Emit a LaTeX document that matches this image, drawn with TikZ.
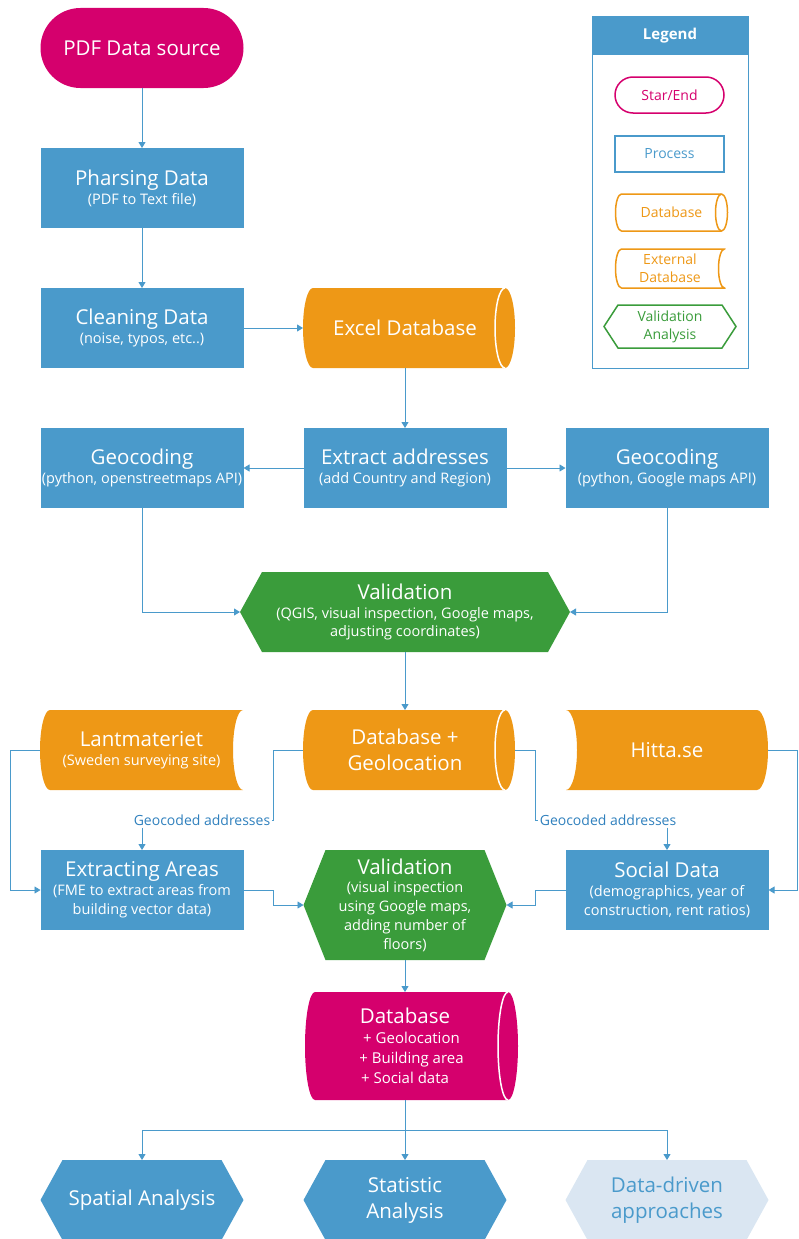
\documentclass[tikz,border=0pt]{standalone}
\usepackage{fontspec}
\setmainfont{Open Sans}
\usetikzlibrary{arrows.meta}

\definecolor{flowmagenta}{HTML}{D5006D}
\definecolor{flowblue}{HTML}{4A9ACB}
\definecolor{floworange}{HTML}{EE9816}
\definecolor{flowgreen}{HTML}{3A9C3B}
\definecolor{flowpale}{HTML}{DAE6F2}
\definecolor{flowtag}{HTML}{2F80BD}

\newcommand{\mtitle}[1]{{\fontsize{20.5}{24}\selectfont #1}}
% keeps text clear of the cylinder cap on the right
\newcommand{\capgap}[1]{\hspace*{#1}}

\tikzset{
    shfill/.store in=\shfill, shfill=flowblue,
    shline/.store in=\shline, shline=none,
    sharc/.store in=\sharc, sharc=white,
    pad/.store in=\shpad, pad=0pt,
    tip/.store in=\shtip, tip=22pt,
    capr/.store in=\shcapr, capr=10pt,
    box/.style = {
        align=center,
        inner sep=0pt,
        outer sep=0pt,
        text=white,
        font=\fontsize{14.5}{18.8}\selectfont
    },
    bigtext/.style = {font=\fontsize{20.5}{26}\selectfont},
    process/.style = {
        box,
        rectangle,
        fill=flowblue,
        minimum width=203pt,
        minimum height=80pt
    },
    startend/.style = {
        box,
        rectangle,
        rounded corners=40pt,
        fill=flowmagenta,
        minimum width=203pt,
        minimum height=80pt,
        font=\fontsize{20.5}{24}\selectfont
    },
    hexagon/.style 2 args = {
        box,
        minimum width=#1pt,
        minimum height=#2pt,
        path picture={
            \path[fill=\shfill, draw=\shline, line width=1.5pt]
                ([xshift=\shtip, yshift=-\shpad]path picture bounding box.north west)
                -- ([xshift=-\shtip, yshift=-\shpad]path picture bounding box.north east)
                -- ([xshift=-\shpad]path picture bounding box.east)
                -- ([xshift=-\shtip, yshift=\shpad]path picture bounding box.south east)
                -- ([xshift=\shtip, yshift=\shpad]path picture bounding box.south west)
                -- ([xshift=\shpad]path picture bounding box.west) -- cycle;
        }
    },
    database/.style 2 args = {
        box,
        minimum width=#1pt,
        minimum height=#2pt,
        path picture={
            \path[fill=\shfill, draw=\shline, line width=1.5pt]
                ([xshift=\shcapr+\shpad, yshift=-\shpad]path picture bounding box.north west)
                arc[start angle=90, end angle=270, x radius=\shcapr, y radius={#2pt/2-\shpad}]
                -- ([xshift=-\shcapr-\shpad, yshift=\shpad]path picture bounding box.south east)
                arc[start angle=-90, end angle=90, x radius=\shcapr, y radius={#2pt/2-\shpad}]
                -- cycle;
            \draw[draw=\sharc, line width=1.5pt]
                ([xshift=-\shcapr-\shpad, yshift=\shpad]path picture bounding box.south east)
                arc[start angle=270, end angle=90, x radius=\shcapr, y radius={#2pt/2-\shpad}];
        }
    },
    extdb/.style 2 args = {
        box,
        minimum width=#1pt,
        minimum height=#2pt,
        path picture={
            \path[fill=\shfill, draw=\shline, line width=1.5pt]
                ([xshift=\shcapr+\shpad, yshift=-\shpad]path picture bounding box.north west)
                arc[start angle=90, end angle=270, x radius=\shcapr, y radius={#2pt/2-\shpad}]
                -- ([xshift=-\shpad, yshift=\shpad]path picture bounding box.south east)
                arc[start angle=270, end angle=90, x radius=\shcapr, y radius={#2pt/2-\shpad}]
                -- cycle;
        }
    },
    extdb flipped/.style 2 args = {
        box,
        minimum width=#1pt,
        minimum height=#2pt,
        path picture={
            \path[fill=\shfill, draw=\shline, line width=1.5pt]
                ([xshift=\shpad, yshift=-\shpad]path picture bounding box.north west)
                arc[start angle=90, end angle=-90, x radius=\shcapr, y radius={#2pt/2-\shpad}]
                -- ([xshift=-\shcapr-\shpad, yshift=\shpad]path picture bounding box.south east)
                arc[start angle=-90, end angle=90, x radius=\shcapr, y radius={#2pt/2-\shpad}]
                -- cycle;
        }
    },
    keyshape/.style = {
        shfill=white,
        pad=1pt,
        font=\fontsize{14}{17}\selectfont
    },
    tag/.style = {
        inner sep=2pt,
        text=flowtag,
        font=\fontsize{14}{17}\selectfont
    },
    link/.style = {draw=flowblue, line width=0.9pt},
    flow/.style = {link, -{Triangle[width=7pt, length=6pt]}}
}

\begin{document}
\begin{tikzpicture}[x=1pt, y=1pt]
    \useasboundingbox (0,0) rectangle (799,-1239);

    % preparing the source data
    \node[startend] (source) at (142,-48) {PDF Data source};
    \node[process] (parse) at (142,-188) {\mtitle{Pharsing Data}\\(PDF to Text file)};
    \node[process] (clean) at (142,-328) {\mtitle{Cleaning Data}\\(noise, typos, etc..)};
    \node[database={212}{80}, shfill=floworange] (excel) at (409,-328) {\mtitle{Excel Database}\capgap{8pt}};

    % geocoding
    \node[process] (extract) at (405,-468) {\mtitle{Extract addresses}\\(add Country and Region)};
    \node[process] (geoosm) at (142,-468) {\mtitle{Geocoding}\\(python, openstreetmaps API)};
    \node[process] (geogoogle) at (667,-468) {\mtitle{Geocoding}\\(python, Google maps API)};
    \node[hexagon={330}{80}, shfill=flowgreen] (check) at (405,-612)
        {\mtitle{Validation}\\(QGIS, visual inspection, Google maps,\\adjusting coordinates)};

    % external sources
    \node[extdb={203}{80}, shfill=floworange] (lant) at (141.5,-750)
        {\mtitle{Lantmateriet}\\(Sweden surveying site)};
    \node[database={212}{80}, shfill=floworange, bigtext] (dbgeo) at (409,-750)
        {Database +\capgap{8pt}\\Geolocation\capgap{8pt}};
    \node[extdb flipped={202}{80}, shfill=floworange, capr=11pt] (hitta) at (667,-750) {\mtitle{Hitta.se}};

    \node[tag] (tagleft) at (202,-820) {Geocoded addresses};
    \node[tag] (tagright) at (608,-820) {Geocoded addresses};

    \node[process] (areas) at (142,-890) {\mtitle{Extracting Areas}\\(FME to extract areas from\\building vector data)};
    \node[hexagon={203}{110}, shfill=flowgreen] (check2) at (405,-905)
        {\mtitle{Validation}\\(visual inspection\\using Google maps,\\adding number of\\floors)};
    \node[process] (social) at (667,-890) {\mtitle{Social Data}\\(demographics, year of\\construction, rent ratios)};

    % final database and analyses
    \node[database={213}{108}, shfill=flowmagenta, font=\fontsize{15}{20}\selectfont] (dbfull) at (411.5,-1046)
        {\mtitle{Database}\capgap{13pt}\\+ Geolocation\capgap{13pt}\\+ Building area\capgap{13pt}\\+ Social data\capgap{13pt}};
    \node[hexagon={203}{80}, shfill=flowblue] (spatial) at (142,-1200) {\mtitle{Spatial Analysis}};
    \node[hexagon={203}{80}, shfill=flowblue, bigtext] (stat) at (405,-1200) {Statistic\\Analysis};
    \node[hexagon={203}{80}, shfill=flowpale, bigtext, text=flowblue] (datadriven) at (667,-1200) {Data-driven\\approaches};

    % legend
    \node[draw=flowblue, line width=0.8pt, minimum width=156pt, minimum height=352pt] (legend) at (670,-192) {};
    \node[fill=flowblue, minimum width=156pt, minimum height=39pt, inner sep=0pt,
          text=white, font=\fontsize{15}{18}\selectfont\bfseries] (legendhead) at (670,-35.5) {Legend};
    \node[box, rectangle, rounded corners=18pt, draw=flowmagenta, line width=1.5pt,
          minimum width=109pt, minimum height=36pt, text=flowmagenta, keyshape] (keystart) at (669.5,-95) {Star/End};
    \node[box, rectangle, draw=flowblue, line width=1.5pt,
          minimum width=109pt, minimum height=36pt, text=flowblue, keyshape] (keyprocess) at (669.5,-154) {Process};
    \node[database={114}{39}, keyshape, shline=floworange, sharc=floworange, capr=6pt,
          text=floworange] (keydb) at (671.5,-212.5) {Database};
    \node[extdb={111}{41}, keyshape, shline=floworange, capr=6pt,
          text=floworange, font=\fontsize{14}{18}\selectfont] (keyext) at (670,-268.5) {External\\Database};
    \node[hexagon={134}{45}, keyshape, shline=flowgreen, tip=15pt,
          text=flowgreen, font=\fontsize{14}{18}\selectfont] (keycheck) at (670,-326.5) {Validation\\Analysis};

    % connectors
    \draw[flow] (source) -- (parse);
    \draw[flow] (parse) -- (clean);
    \draw[flow] (clean.east) -- (excel.west);
    \draw[flow] (excel.south -| extract) -- (extract);
    \draw[flow] (extract) -- (geoosm);
    \draw[flow] (extract) -- (geogoogle);
    \draw[flow] (geoosm) |- (check.west);
    \draw[flow] (geogoogle) |- (check.east);
    \draw[flow] (check) -- (check |- dbgeo.north);

    \draw[flow] (lant.west) -- ++(-30,0) |- (areas.west);
    \draw[link] (dbgeo.west) -- ++(-30,0) |- (tagleft.east);
    \draw[flow] (tagleft.south -| areas) -- (areas);
    \draw[link] (dbgeo.east) -- ++(20,0) |- (tagright.west);
    \draw[flow] (tagright.south -| social) -- (social);
    \draw[flow] (hitta.east) -- ++(29,0) |- (social.east);
    \draw[flow] (areas.east) -- ++(30,0) |- (check2.west);
    \draw[flow] (social.west) -- ++(-30,0) |- (check2.east);
    \draw[flow] (check2) -- (check2 |- dbfull.north);

    \draw[flow] (dbfull.south -| check2) -- ++(0,-30) -| (spatial);
    \draw[flow] (dbfull.south -| check2) -- ++(0,-30) -| (datadriven);
    \draw[flow] (dbfull.south -| check2) -- (stat);
\end{tikzpicture}
\end{document}
